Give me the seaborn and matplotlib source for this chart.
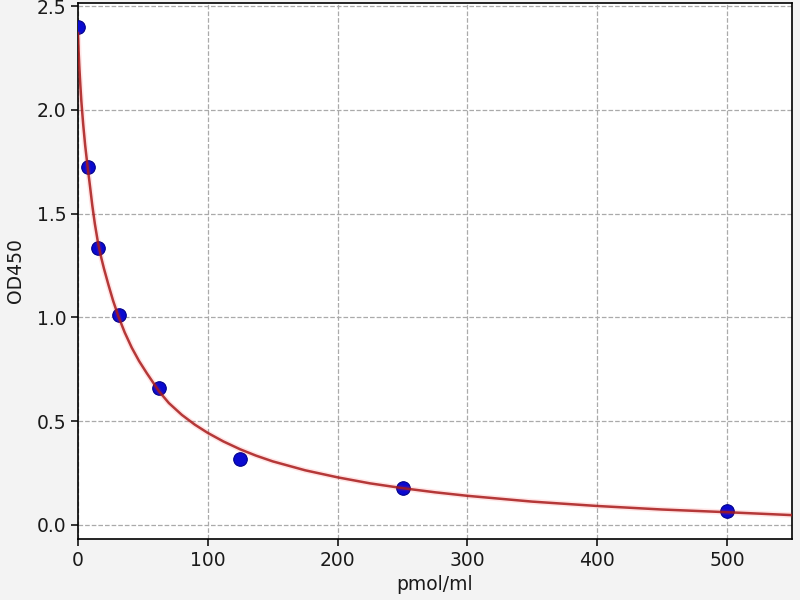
import matplotlib
matplotlib.use("Agg")
import matplotlib.pyplot as plt
import seaborn as sns
import pandas as pd

# Standard points
conc = [0, 7.8, 15.6, 31.25, 62.5, 125, 250, 500]
od = [2.40, 1.726, 1.333, 1.011, 0.660, 0.317, 0.180, 0.068]

# Fitted curve, values
curve_x = [0, 0.5, 1, 1.8, 2.6, 4, 5.5, 7.5, 9, 11, 13, 15.4, 18, 20, 23.4, 27,
           31.1, 36, 41.4, 47, 53, 62.5, 70, 80, 90, 100, 112, 125, 137, 150,
           175, 200, 225, 250, 275, 300, 350, 400, 450, 500, 550]
curve_y = [2.37, 2.28, 2.21, 2.12, 2.04, 1.93, 1.83, 1.72, 1.645, 1.54, 1.45,
           1.36, 1.285, 1.235, 1.158, 1.081, 1.005, 0.927, 0.854, 0.790, 0.731,
           0.643, 0.587, 0.530, 0.483, 0.443, 0.402, 0.364, 0.334, 0.306,
           0.263, 0.229, 0.200, 0.177, 0.157, 0.140, 0.112, 0.091, 0.074,
           0.061, 0.047]

x_ticks = [0, 100, 200, 300, 400, 500]
y_ticks = [0.0, 0.5, 1.0, 1.5, 2.0, 2.5]

pts = pd.DataFrame({"x": conc, "y": od})
crv = pd.DataFrame({"x": curve_x, "y": curve_y})

sns.set_theme(style="white")
plt.rcParams["font.family"] = ["DejaVu Sans"]

fig = plt.figure(figsize=(8, 6), dpi=100, facecolor="#f3f3f3")
ax = fig.add_axes([0.0975, 0.1017, 0.8925, 0.8933])
ax.set_facecolor("white")

sns.scatterplot(data=pts, x="x", y="y", ax=ax, s=95, color="#0a0ad0",
                edgecolor="#00008b", linewidth=0.8, zorder=3)
sns.lineplot(data=crv, x="x", y="y", ax=ax, color="#ff3030", linewidth=4.0,
             alpha=0.12, zorder=4, sort=False)
sns.lineplot(data=crv, x="x", y="y", ax=ax, color="#a81a1a", linewidth=1.8,
             alpha=0.85, zorder=5, sort=False)

ax.set_xlim(0, 550)
ax.set_ylim(-0.068, 2.515)
ax.set_xticks(x_ticks)
ax.set_yticks(y_ticks)
ax.set_yticklabels([f"{v:.1f}" for v in y_ticks])
ax.grid(True, linestyle="--", color="#aaaaaa", linewidth=0.9)
ax.set_axisbelow(True)
ax.tick_params(axis="both", labelsize=13.5, length=5, width=1.1,
               direction="out", color="black", bottom=True, left=True,
               labelcolor="#1a1a1a")
for sp in ax.spines.values():
    sp.set_color("black")
    sp.set_linewidth(1.2)
ax.set_xlabel("pmol/ml", fontsize=13.5, color="#1a1a1a", labelpad=4)
ax.set_ylabel("OD450", fontsize=13.5, color="#1a1a1a", labelpad=8)

fig.savefig("out.png", dpi=100, facecolor=fig.get_facecolor())
